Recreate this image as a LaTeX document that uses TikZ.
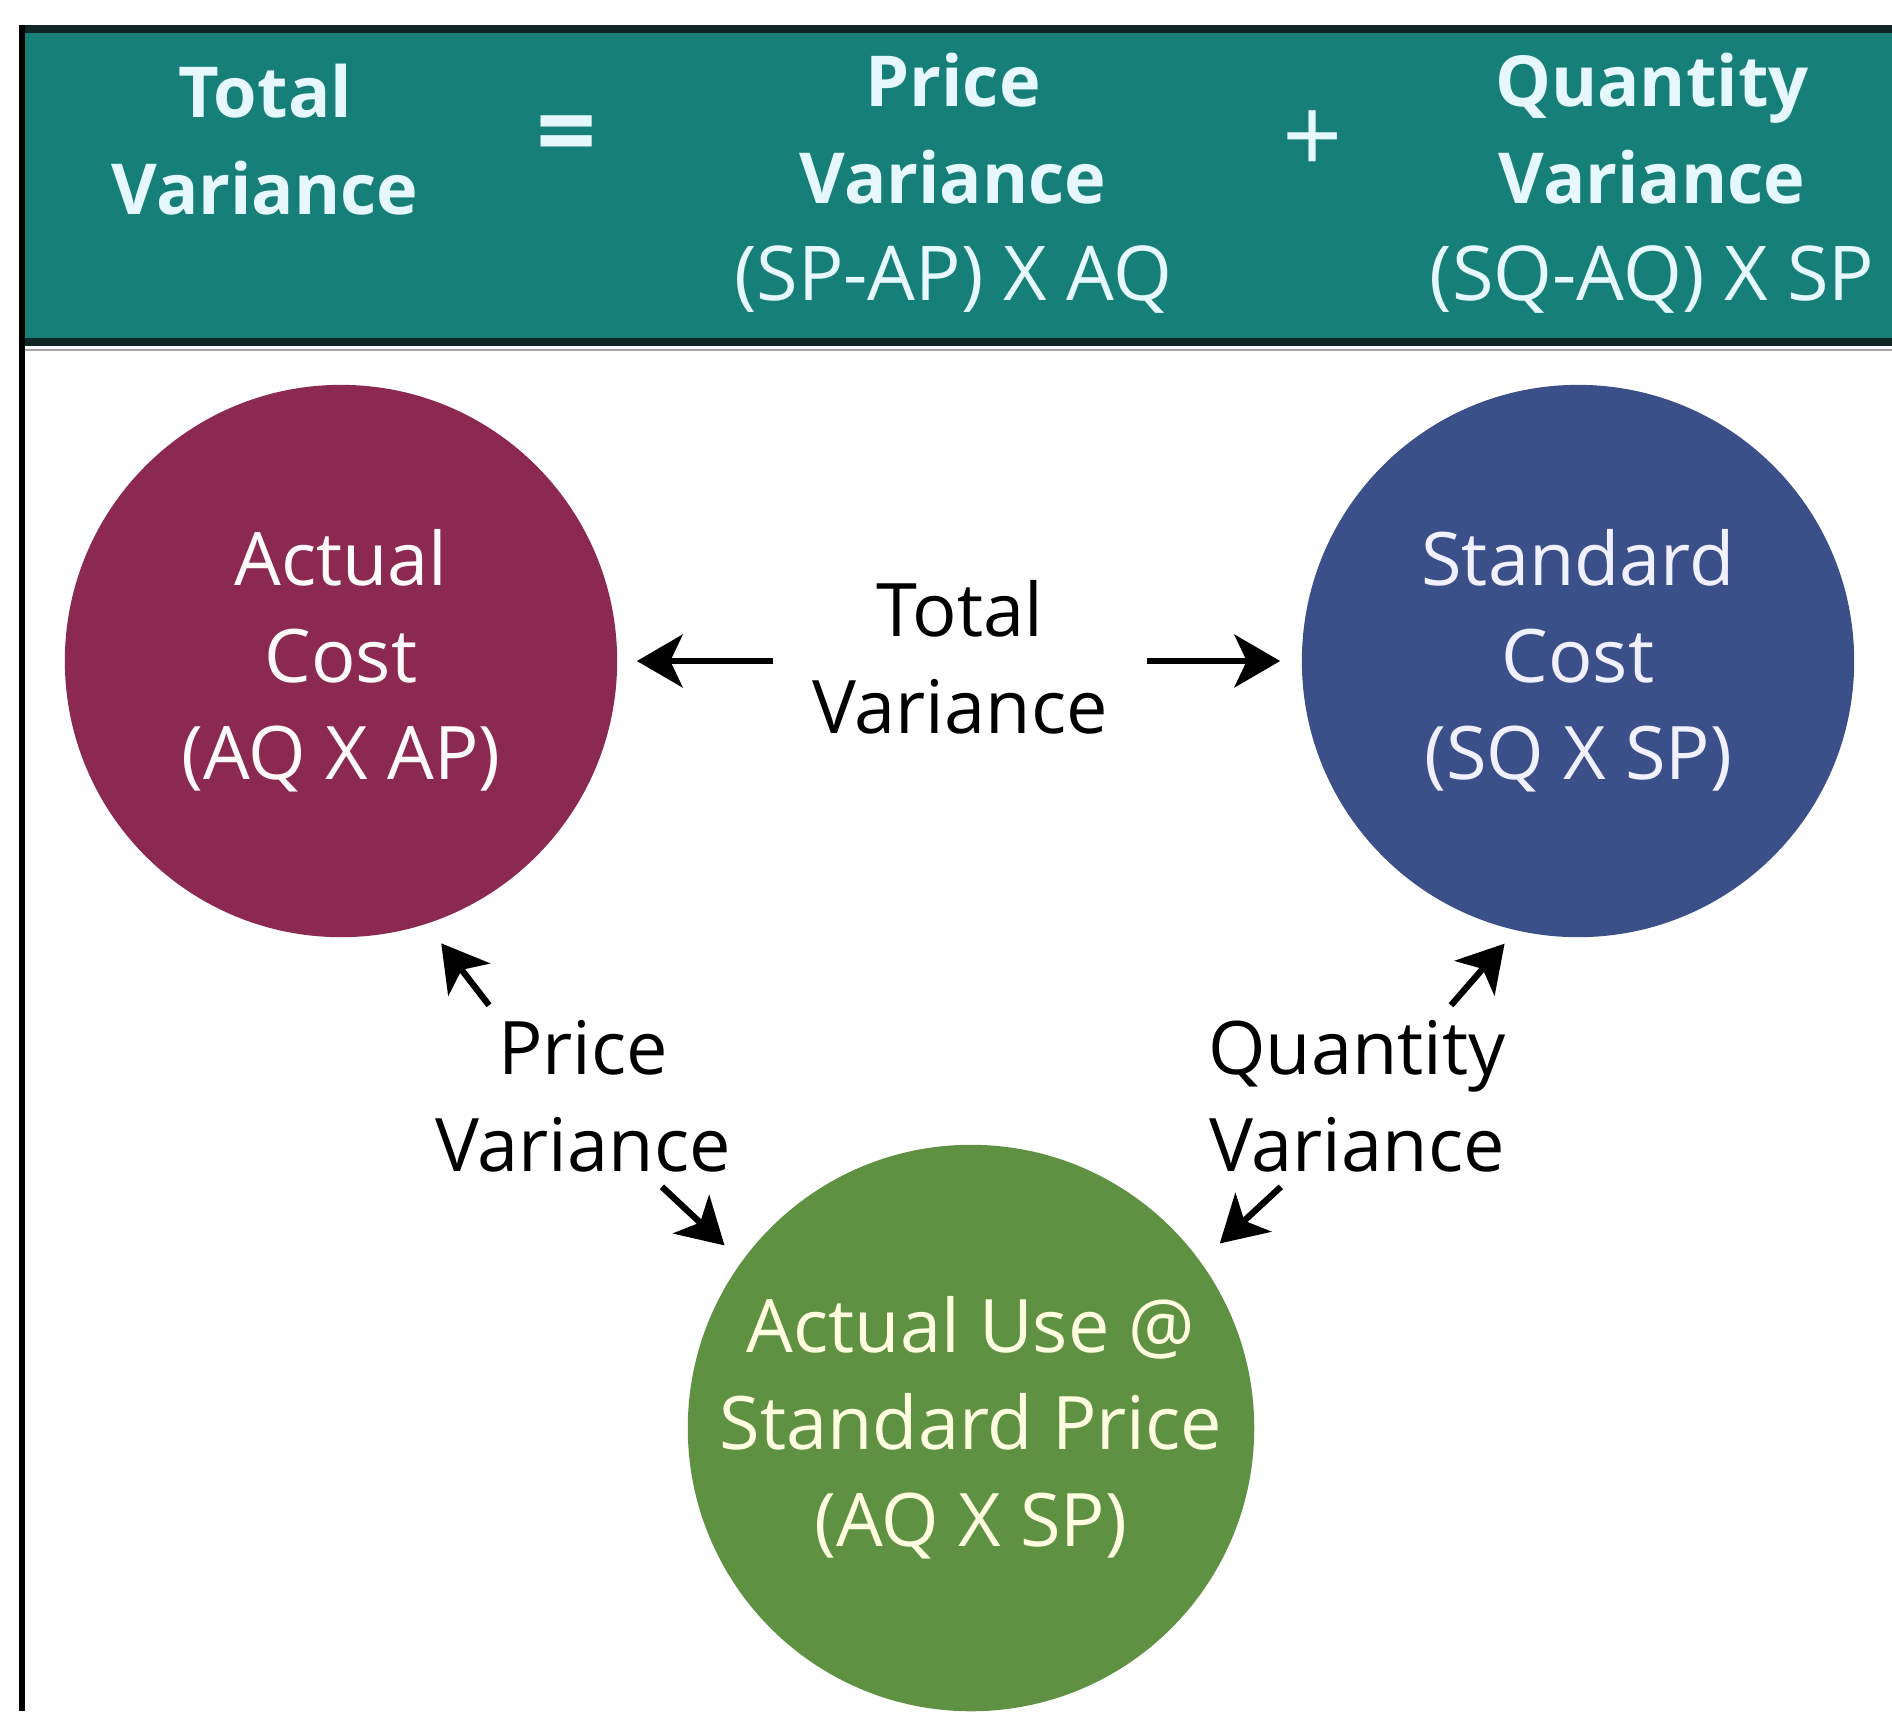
\documentclass[tikz,border=0pt]{standalone}
\usepackage{fontspec}
\setmainfont{Open Sans}
\usetikzlibrary{arrows.meta,positioning}

\definecolor{headteal}{RGB}{22,127,119}
\definecolor{headline}{RGB}{16,38,38}
\definecolor{costred}{RGB}{139,41,80}
\definecolor{costblue}{RGB}{59,79,137}
\definecolor{usegreen}{RGB}{95,145,67}

\newcommand{\headbold}[1]{{\fontsize{20}{27.6}\selectfont\bfseries #1}}

\tikzset{
  headtext/.style={align=center, inner sep=0pt, text=white!90!cyan,
    font=\fontsize{21.5}{27.6}\selectfont},
  opsign/.style={inner sep=0pt, text=white!90!cyan,
    font=\fontsize{30}{30}\selectfont\bfseries},
  costcircle/.style={circle, minimum size=5.52cm, inner sep=0pt, align=center,
    font=\fontsize{21}{27.6}\selectfont},
  varlabel/.style={align=center, inner sep=4pt,
    font=\fontsize{21}{27.6}\selectfont},
  vararrow/.style={-{Stealth[length=13pt,width=15pt,inset=3.5pt]}, line width=1.8pt}
}

\begin{document}
\begin{tikzpicture}[x=0.01cm, y=-0.01cm]
  \useasboundingbox (0,0) rectangle (1892,1711);

  % header band
  \fill[headteal] (22,29) rectangle (1892,342);
  \draw[headline, line width=2.3pt] (22,29) -- (1892,29);
  \draw[headline, line width=2.5pt] (22,342) -- (1892,342);
  \draw[black!35, line width=0.8pt] (22,350) -- (1892,350);
  \draw[black, line width=1.7pt] (22,25) -- (22,1711);

  \node[headtext] (hTotal) at (265,140) {\headbold{Total}\\\headbold{Variance}};
  \node[opsign] (hEq) at (567,142) {=};
  \node[headtext] (hPrice) at (953,183) {\headbold{Price}\\\headbold{Variance}\\(SP-AP) X AQ};
  \node[opsign, font=\fontsize{30}{30}\selectfont] (hPlus) at (1313,142) {+};
  \node[headtext] (hQuantity) at (1652,183) {\headbold{Quantity}\\\headbold{Variance}\\(SQ-AQ) X SP};

  % the three costs
  \node[costcircle, fill=costred, text=white!92!pink] (actual) at (341,661)
    {Actual\\Cost\\(AQ X AP)};
  \node[costcircle, fill=costblue, text=white!94!blue] (standard) at (1578,661)
    {Standard\\Cost\\(SQ X SP)};
  \node[costcircle, fill=usegreen, text=white!88!yellow] (actualuse) at (971,1428)
    {Actual Use @\\Standard Price\\(AQ X SP)};

  % variances between them
  \node[varlabel, inner xsep=11pt] (tv) at (960,657) {Total\\Variance};
  \node[varlabel] (pv) at (583,1096) {Price\\Variance};
  \node[varlabel] (qv) at (1357,1096) {Quantity\\Variance};

  \draw[vararrow, shorten >=0.19cm] (tv.west |- actual.east) -- (actual.east);
  \draw[vararrow, shorten >=0.21cm] (tv.east |- standard.west) -- (standard.west);
  \draw[vararrow, shorten >=0.24cm] (pv.136) -- (actual.-72);
  \draw[vararrow, shorten >=0.23cm] (pv.-49) -- (actualuse.144);
  \draw[vararrow, shorten >=0.17cm] (qv.44) -- (standard.-103);
  \draw[vararrow, shorten >=0.26cm] (qv.-130) -- (actualuse.36);
\end{tikzpicture}
\end{document}
